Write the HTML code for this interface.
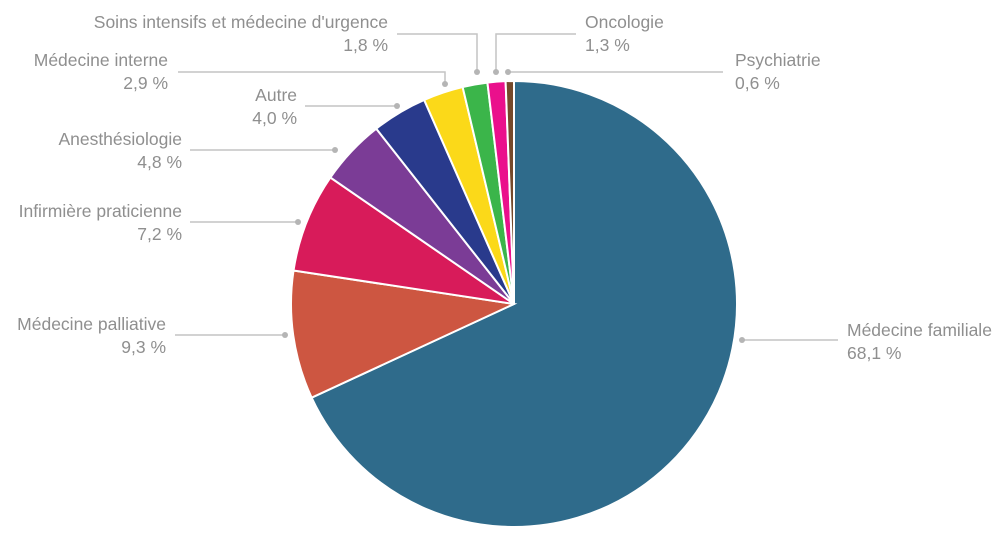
<!DOCTYPE html>
<html><head><meta charset="utf-8">
<style>
html,body{margin:0;padding:0;background:#fff;}
svg{display:block;}
text{font-family:"Liberation Sans",sans-serif;font-size:17.5px;fill:#8f8f8f;}
</style></head>
<body>
<svg width="995" height="533" viewBox="0 0 995 533">
<g id="slices"></g>
<g id="labels"></g>
</svg>
<script>
const categories=["Médecine familiale","Médecine palliative","Infirmière praticienne","Anesthésiologie","Autre","Médecine interne","Soins intensifs et médecine d'urgence","Oncologie","Psychiatrie"];
const values=[68.1,9.3,7.2,4.8,4.0,2.9,1.8,1.3,0.6];
const valueLabels=["68,1 %","9,3 %","7,2 %","4,8 %","4,0 %","2,9 %","1,8 %","1,3 %","0,6 %"];
const colors=["#2f6b8b","#cd5641","#d81b5a","#7b3c96","#293a8c","#fbd919","#3bb54a","#ea108c","#75492a"];
const layouts=[
 {pts:[[742,340],[838,340]],tx:847,ty:336,a:"start"},
 {pts:[[285,335],[175,335]],tx:166,ty:330,a:"end"},
 {pts:[[298,222],[190,222]],tx:182,ty:217,a:"end"},
 {pts:[[335,150],[190,150]],tx:182,ty:145,a:"end"},
 {pts:[[397,106],[305,106]],tx:297,ty:101,a:"end"},
 {pts:[[445,84],[445,72],[178,72]],tx:168,ty:66,a:"end"},
 {pts:[[477,72],[477,34],[397,34]],tx:388,ty:28,a:"end"},
 {pts:[[496,72],[496,34],[576,34]],tx:585,ty:28,a:"start"},
 {pts:[[508,72],[723,72]],tx:735,ty:66,a:"start"}
];
const NS="http://www.w3.org/2000/svg";
const cx=514,cy=304,r=223;
const total=values.reduce((s,v)=>s+v,0);
const gS=document.getElementById("slices"),gL=document.getElementById("labels");
let ang=0;
values.forEach((v,i)=>{
  const a0=ang/total*2*Math.PI, a1=(ang+v)/total*2*Math.PI; ang+=v;
  const x0=cx+r*Math.sin(a0),y0=cy-r*Math.cos(a0),x1=cx+r*Math.sin(a1),y1=cy-r*Math.cos(a1);
  const p=document.createElementNS(NS,"path");
  p.setAttribute("d",`M${cx},${cy}L${x0},${y0}A${r},${r} 0 ${a1-a0>Math.PI?1:0} 1 ${x1},${y1}Z`);
  p.setAttribute("fill",colors[i]);p.setAttribute("stroke","#fff");p.setAttribute("stroke-width","2");
  
  
  gS.appendChild(p);
  const L=layouts[i];
  const pl=document.createElementNS(NS,"polyline");
  pl.setAttribute("points",L.pts.map(q=>q.join(",")).join(" "));
  pl.setAttribute("fill","none");pl.setAttribute("stroke","#c4c4c4");pl.setAttribute("stroke-width","1.5");
  
  
  gL.appendChild(pl);
  const d=document.createElementNS(NS,"circle");
  d.setAttribute("cx",L.pts[0][0]);d.setAttribute("cy",L.pts[0][1]);d.setAttribute("r","3");d.setAttribute("fill","#b5b5b5");
  
  
  gL.appendChild(d);
  const t=document.createElementNS(NS,"text");
  t.setAttribute("x",L.tx);t.setAttribute("y",L.ty);t.setAttribute("text-anchor",L.a);
  t.textContent=categories[i];
  
  
  gL.appendChild(t);
  const t2=document.createElementNS(NS,"text");
  t2.setAttribute("x",L.tx);t2.setAttribute("y",L.ty+23);t2.setAttribute("text-anchor",L.a);
  t2.textContent=valueLabels[i];
  
  
  gL.appendChild(t2);
});
</script>
</body></html>
